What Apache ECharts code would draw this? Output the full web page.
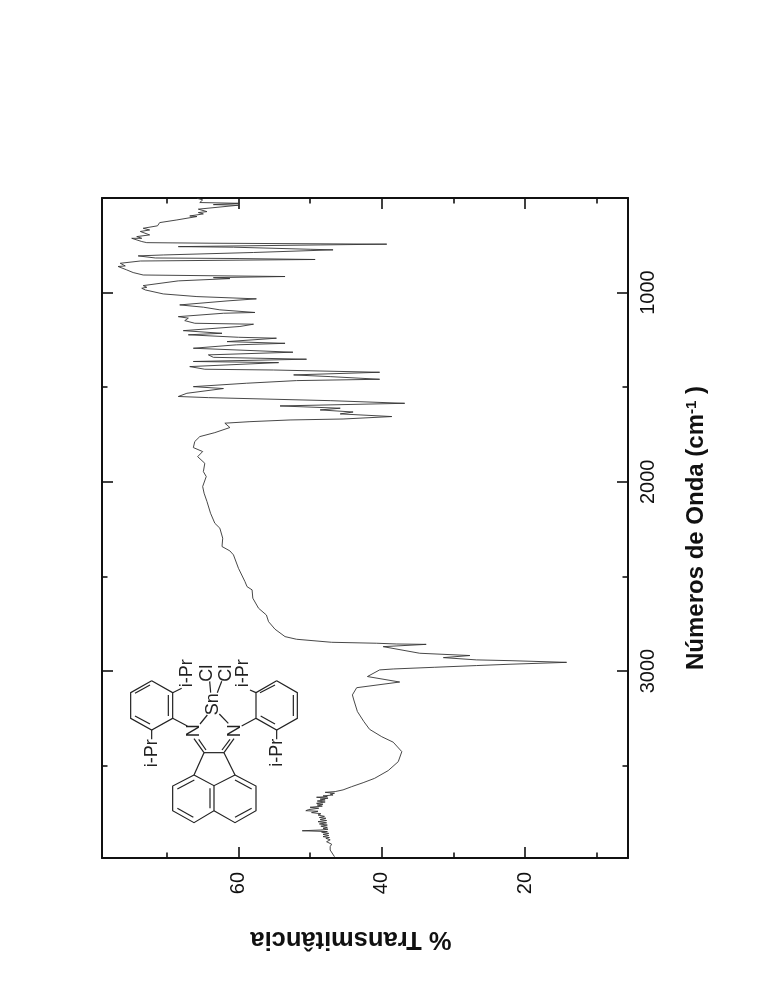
<!DOCTYPE html>
<html><head><meta charset="utf-8">
<style>html,body{margin:0;padding:0;background:#fff}#c{width:757px;height:1003px}</style>
<script src="https://cdn.jsdelivr.net/npm/echarts@6/dist/echarts.min.js"></script>
</head><body><div id="c"></div>
<script>
const wavenumbers = [501,510,524,528,535,538,559,572,577,584,595,598,616,630,647,660,669,677,695,704,713,713,730,736,739,744,748,757,760,771,774,788,801,806,817,820,825,833,845,859,862,880,894,907,915,921,926,938,963,972,977,986,994,1007,1021,1033,1044,1065,1077,1091,1105,1109,1127,1135,1148,1162,1167,1179,1201,1215,1223,1236,1241,1259,1268,1276,1294,1315,1329,1342,1352,1364,1370,1391,1405,1409,1421,1435,1444,1458,1465,1479,1497,1507,1532,1549,1555,1571,1585,1599,1611,1620,1631,1641,1655,1668,1673,1682,1690,1713,1740,1761,1787,1819,1840,1867,1902,1946,1972,2025,2060,2104,2166,2219,2245,2298,2342,2351,2365,2386,2457,2527,2554,2571,2615,2668,2704,2739,2779,2818,2832,2848,2853,2857,2859,2871,2906,2918,2929,2941,2945,2954,2964,2971,2980,2989,2994,3029,3058,3088,3126,3153,3214,3267,3308,3347,3376,3426,3479,3526,3567,3590,3611,3628,3637,3641,3646,3650,3655,3660,3664,3667,3672,3677,3681,3687,3692,3699,3704,3708,3714,3720,3725,3732,3738,3741,3748,3754,3761,3768,3774,3778,3785,3790,3796,3802,3808,3814,3820,3826,3831,3836,3840,3844,3848,3851,3858,3863,3869,3875,3880,3884,3892,3902,3915,3928,3946,3981];
const transmittance = [65.8,65.0,65.4,59.9,63.5,60.0,65.6,64.4,65.6,64.9,66.8,65.8,68.6,71.0,71.3,73.3,72.4,73.7,72.4,74.2,73.5,74.9,73.5,72.8,63.7,39.3,48.6,68.4,60.7,50.0,46.8,57.9,70.5,74.0,71.6,59.8,49.3,73.7,76.5,75.8,76.8,75.6,74.7,73.3,53.5,63.5,61.2,68.4,73.3,72.8,73.5,73.0,73.0,70.5,65.8,57.5,61.6,68.2,64.9,62.6,57.7,62.1,68.4,67.0,67.5,66.1,57.9,59.8,67.7,62.3,67.0,60.0,54.7,61.6,53.5,60.3,66.3,52.4,64.2,63.5,50.5,66.3,54.4,66.8,64.7,55.1,40.3,52.3,47.2,40.3,51.9,58.9,66.3,62.1,67.2,68.4,64.2,47.2,36.8,54.2,45.8,48.6,44.0,45.8,38.6,45.4,52.8,58.4,61.9,61.2,63.3,65.4,66.1,66.3,65.0,65.7,64.7,64.9,64.5,65.0,64.8,64.4,63.9,63.3,62.6,62.2,62.3,62.5,61.2,60.7,60.0,59.1,58.8,58.1,58.0,57.2,56.1,55.8,54.9,53.5,51.9,47.0,40.7,37.9,33.8,39.8,34.7,27.7,31.4,26.8,22.1,14.2,22.1,26.8,32.6,38.4,40.3,42.0,37.5,43.5,44.1,43.9,43.4,42.5,41.7,40.0,38.4,37.2,37.7,39.1,41.0,42.6,44.2,45.4,46.5,47.9,46.6,47.2,46.8,48.2,47.6,49.1,47.5,48.6,47.9,49.0,47.9,49.1,48.2,49.0,48.3,50.0,48.8,50.2,50.6,48.9,49.8,48.5,48.9,48.0,48.7,47.8,48.6,47.7,48.9,47.7,48.7,47.6,48.5,47.6,48.2,47.5,48.5,51.1,47.6,48.4,47.4,48.2,47.4,48.2,47.3,47.8,47.2,47.7,47.0,47.2,47.2,46.6];
const wavenumberTicks = [1000,2000,3000];
const wavenumberMinorTicks = [1500,2500,3500];
const transmittanceTicks = [20,40,60];
const transmittanceMinorTicks = [10,30,50,70];

const tMin = 5.63, tMax = 79.05, wMin = 500, wMax = 3988;
const frame = {show:true,onZero:false,lineStyle:{color:'#111',width:2}};
const font = 'Liberation Sans';
const plain = v => String(v);
function xA(pos, vals, len, labelled, line){
  return {type:'value',position:pos,inverse:true,min:tMin,max:tMax,splitLine:{show:false},
    axisLine:line?frame:{show:false},
    axisTick:{show:true,inside:true,length:len,customValues:vals,lineStyle:{color:'#111',width:1.6}},
    axisLabel:labelled?{show:true,customValues:vals,formatter:plain,rotate:90,margin:14,fontSize:20,fontFamily:font,color:'#111'}:{show:false}};
}
function yA(pos, vals, len, labelled, line){
  return {type:'value',position:pos,inverse:true,min:wMin,max:wMax,splitLine:{show:false},
    axisLine:line?frame:{show:false},
    axisTick:{show:true,inside:true,length:len,customValues:vals,lineStyle:{color:'#111',width:1.6}},
    axisLabel:labelled?{show:true,customValues:vals,formatter:plain,rotate:90,margin:10,fontSize:20,fontFamily:font,color:'#111'}:{show:false}};
}
const xMain = xA('bottom',transmittanceTicks,11,true,true);
xMain.name='% Transmitância'; xMain.nameLocation='middle'; xMain.nameGap=68; xMain.nameRotate=180;
xMain.nameTextStyle={fontFamily:font,fontWeight:'bold',fontSize:25.5,color:'#111',padding:[0,0,0,28]};
const yMain = yA('right',wavenumberTicks,11,true,true);
yMain.name='{n|Números de Onda (cm}{s|-1}{n| )}'; yMain.nameLocation='middle'; yMain.nameGap=56; yMain.nameRotate=90;
yMain.nameTextStyle={rich:{n:{fontFamily:font,fontWeight:'bold',fontSize:24,color:'#111'},
  s:{fontFamily:font,fontWeight:'bold',fontSize:15,color:'#111',verticalAlign:'top',padding:[0,0,8,0]}}};

// inset structure, drawn in reference pixels
const P=(a)=>a.map(p=>[100+p[0]/3,640+p[1]/3]);
const bonds=[
 [[155,122],[218,158],[218,235],[155,270],[92,235],[92,158],[155,122]],
 [[150,135],[105,160]],[[205,165],[205,228]],[[105,228],[150,252]],
 [[530,122],[592,158],[592,235],[530,270],[468,235],[468,158],[530,122]],
 [[525,135],[480,158]],[[580,165],[580,228]],[[482,228],[525,252]],
 [[218,158],[245,145]],[[468,158],[450,150]],[[155,270],[155,298]],[[530,270],[530,298]],
 [[218,235],[262,258]],[[468,235],[425,258]],
 [[300,252],[322,225]],[[385,250],[358,222]],[[332,158],[329,124]],[[352,158],[365,124]],
 [[282,296],[312,338]],[[296,298],[318,330]],[[402,296],[372,338]],[[390,298],[366,330]],
 [[312,338],[372,338]],[[312,338],[282,405]],[[372,338],[405,405]],
 [[282,405],[342,437],[405,405]],
 [[282,405],[218,438],[218,512],[282,548],[342,512],[342,437]],
 [[405,405],[468,438],[468,512],[405,548],[342,512]],
 [[283,420],[232,447]],[[232,505],[280,532]],[[330,445],[330,505]],
 [[405,420],[455,447]],[[455,505],[405,532]]];
const labels=[['i-Pr',262,100],['i-Pr',430,100],['i-Pr',155,340],['i-Pr',530,338],['Cl',322,100],['Cl',378,100],['Sn',338,193],['N',282,272],['N',405,272]];
const graphic=[];
bonds.forEach(b=>graphic.push({type:'polyline',shape:{points:P(b)},style:{stroke:'#222',lineWidth:1.2,fill:null},silent:true}));
labels.forEach(l=>{const q=P([[l[1],l[2]]])[0];
  graphic.push({type:'text',x:q[0],y:q[1],rotation:Math.PI/2,silent:true,
   style:{text:l[0],fontFamily:font,fontSize:18,fill:'#222',align:'center',verticalAlign:'middle'}});});

const chart=echarts.init(document.getElementById('c'),null,{renderer:'canvas'});
chart.setOption({animation:false,backgroundColor:'#fff',
 grid:{left:102,right:129,top:198,bottom:145},
 xAxis:[xMain,xA('bottom',transmittanceMinorTicks,5.5,false,false),xA('top',transmittanceTicks,11,false,true),xA('top',transmittanceMinorTicks,5.5,false,false)],
 yAxis:[yMain,yA('right',wavenumberMinorTicks,5.5,false,false),yA('left',wavenumberTicks,11,false,true),yA('left',wavenumberMinorTicks,5.5,false,false)],
 series:[{type:'line',xAxisIndex:0,yAxisIndex:0,showSymbol:false,symbol:'none',smooth:false,sampling:false,
   lineStyle:{color:'#333',width:0.9},data:wavenumbers.map((w,i)=>[transmittance[i],w])}],
 graphic:graphic});
</script></body></html>
